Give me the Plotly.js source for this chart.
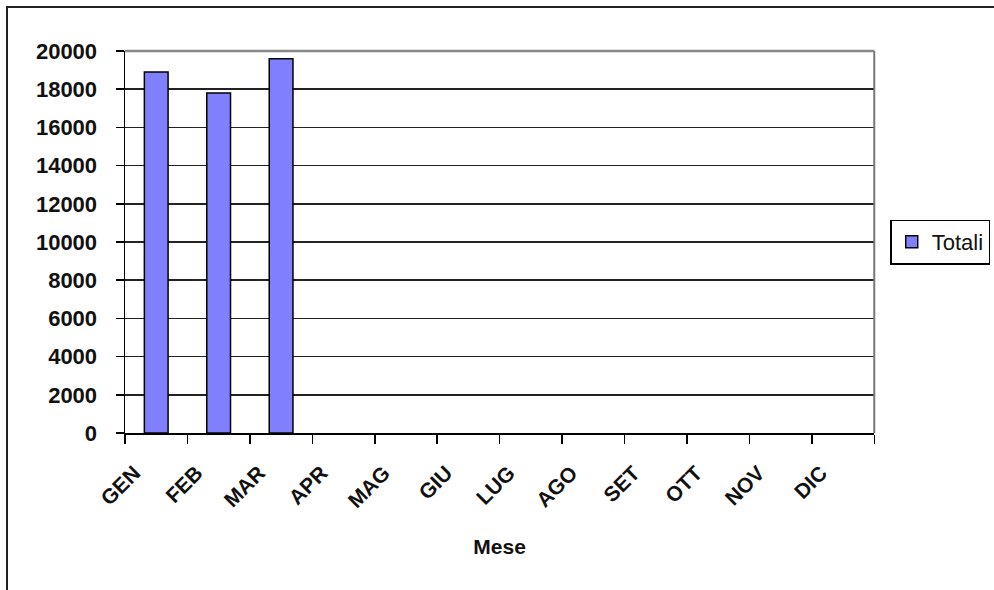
<!DOCTYPE html>
<html>
<head>
<meta charset="utf-8">
<script src="https://cdn.plot.ly/plotly-3.0.1.min.js"></script>
<style>
  html, body { margin: 0; padding: 0; background: #fff; }
  #chart { width: 994px; height: 590px; position: absolute; left: 0; top: 0; }
  #frame { position: absolute; left: 6px; top: 6px; width: 1000px; height: 600px;
           border-left: 2px solid #222; border-top: 2px solid #222; pointer-events: none; }
</style>
</head>
<body>
<div id="chart"></div>
<div id="frame"></div>
<script>
const months = ["GEN","FEB","MAR","APR","MAG","GIU","LUG","AGO","SET","OTT","NOV","DIC"];
const totali = [18900, 17800, 19600, null, null, null, null, null, null, null, null, null];
const yTicks = [0,2000,4000,6000,8000,10000,12000,14000,16000,18000,20000];
const seriesName = "Totali";
const xTitle = "Mese";

const font = "Liberation Sans, Arial, sans-serif";

const trace = {
  type: "bar",
  x: months,
  y: totali,
  name: seriesName,
  marker: { color: "#8080FF", line: { color: "#000000", width: 1.5 } },
  showlegend: true,
  hoverinfo: "x+y"
};

// plot area: x 125..876 px, y 51..433 px
const mL = 125, mR = 4, W = 994;
const paperW = W - mL - mR;
const plotRight = 876, legendLeft = 892;

const layout = {
  width: 994, height: 590,
  margin: { l: mL, r: mR, t: 51, b: 157 },
  paper_bgcolor: "#ffffff",
  plot_bgcolor: "#ffffff",
  bargap: 0.62,
  font: { family: font, color: "#000" },
  xaxis: {
    domain: [0, (plotRight - mL) / paperW],
    type: "category",
    categoryorder: "array",
    categoryarray: months,
    tickson: "boundaries",
    ticks: "outside",
    ticklen: 9,
    tickwidth: 1.5,
    tickcolor: "#000",
    tickangle: -45,
    ticklabelshift: -22,
    ticklabelstandoff: 18,
    tickfont: { family: font, size: 21, color: "#111", weight: "bold" },
    showline: true, linecolor: "#000", linewidth: 1.5,
    showgrid: false,
    zeroline: false,
    title: { text: xTitle, font: { family: font, size: 21, color: "#111", weight: "bold" }, standoff: 28 }
  },
  yaxis: {
    range: [0, 20000],
    tickvals: yTicks,
    ticktext: yTicks.map(String),
    ticks: "outside",
    ticklen: 8,
    tickwidth: 1.5,
    tickcolor: "#000",
    ticklabelstandoff: 14,
    tickfont: { family: font, size: 22, color: "#111", weight: "bold" },
    showline: true, linecolor: "#000", linewidth: 1.5,
    showgrid: true, gridcolor: "#222", gridwidth: 1.5,
    zeroline: false
  },
  shapes: [
    { type: "line", xref: "x domain", yref: "y domain", x0: 0, x1: 1, y0: 1, y1: 1,
      line: { color: "#888", width: 2.5 }, layer: "above" },
    { type: "line", xref: "x domain", yref: "y domain", x0: 1, x1: 1, y0: 0, y1: 1,
      line: { color: "#777", width: 2 }, layer: "above" }
  ],
  legend: {
    x: (legendLeft - mL) / paperW, xanchor: "left",
    y: 0.5, yanchor: "middle",
    bordercolor: "#000", borderwidth: 1.5,
    bgcolor: "#fff",
    font: { family: font, size: 22, color: "#111" },
    itemwidth: 30
  }
};

Plotly.newPlot("chart", [trace], layout, { displayModeBar: false, staticPlot: true });
</script>
</body>
</html>
